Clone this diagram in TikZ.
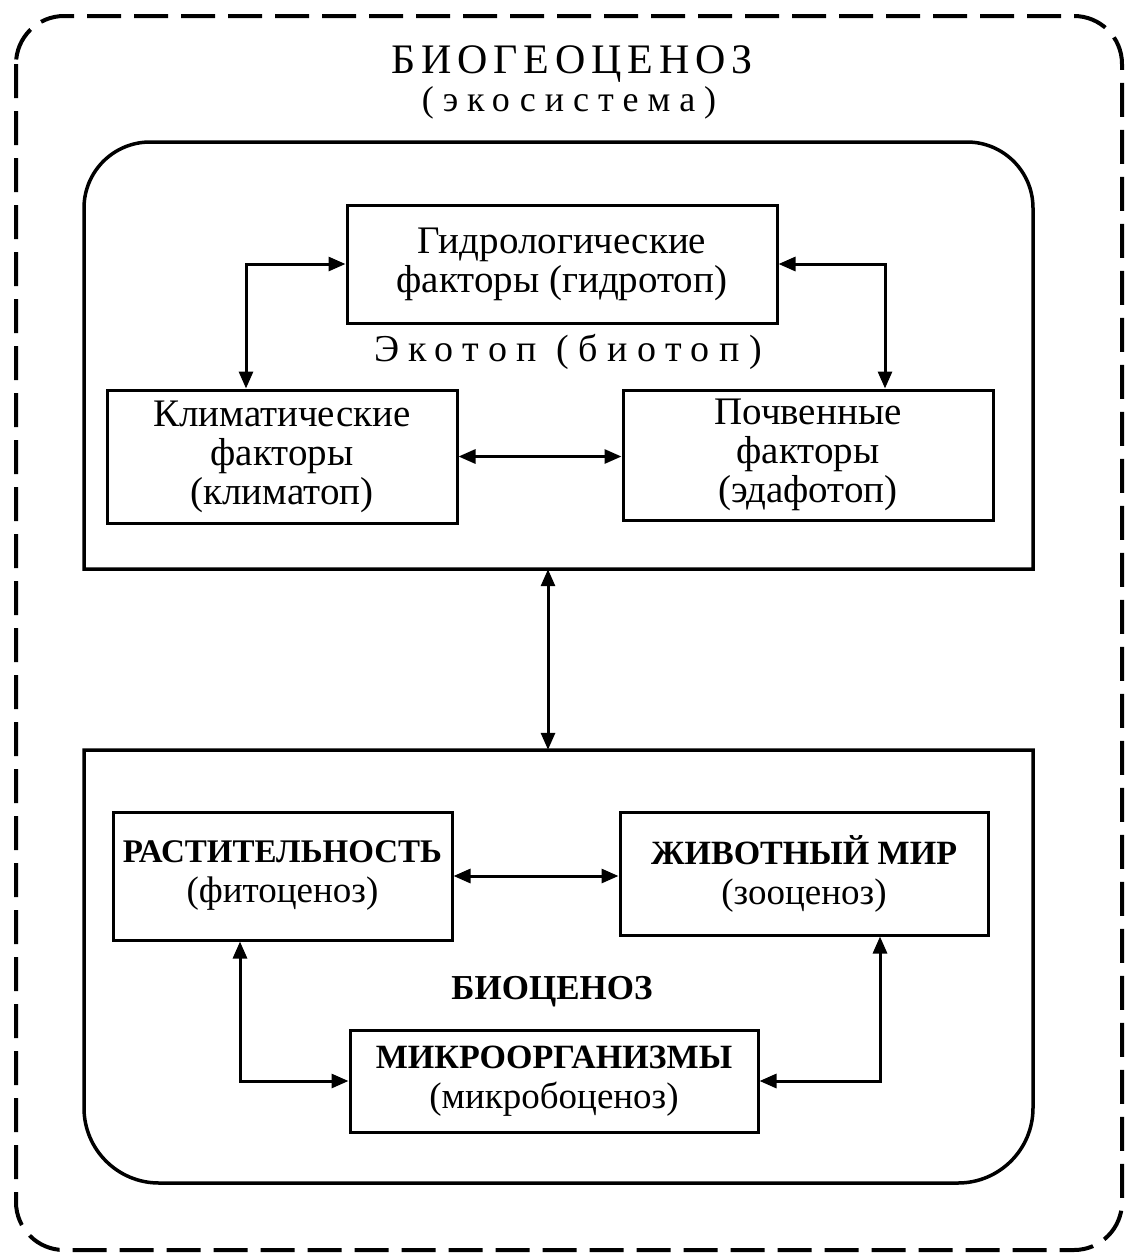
\documentclass[tikz,border=0pt]{standalone}
\usepackage{fontspec}
\setmainfont{Liberation Serif}
\newfontfamily\spacedfont[LetterSpace=25]{Liberation Serif}
\newfontfamily\titlefont[LetterSpace=14]{Liberation Serif}
\usetikzlibrary{arrows.meta,calc}
\begin{document}
\begin{tikzpicture}[x=1pt,y=-1pt,
  box/.style={draw, line width=3pt, rectangle, inner sep=0pt, align=center,
    font=\fontsize{39}{39}\selectfont},
  capbox/.style={box, font=\fontsize{37}{40}\selectfont},
  region/.style={rectangle, inner sep=0pt},
  link/.style={line width=3pt, {Triangle[length=17pt,width=14pt]}-{Triangle[length=17pt,width=14pt]}},
  frame/.style={line width=3.5pt},
  outer/.style={line width=4pt, dash pattern=on 34pt off 13pt, rounded corners=48pt},
  spaced/.style={font=\spacedfont\fontsize{38}{42}\selectfont}]
\useasboundingbox (0,0) rectangle (1128,1254);

% outer dashed frame
\draw[outer] (16,16) rectangle (1122,1250);

% container shapes
\draw[frame] (84,569) -- (84,300) [rounded corners=66pt] -- (84,142) -- (1033,142) -- (1033,300) [sharp corners] -- (1033,569) -- cycle;
\draw[frame] (84,750) -- (84,900) [rounded corners=75pt] -- (84,1183) -- (1033,1183) -- (1033,900) [sharp corners] -- (1033,750) -- cycle;
\node[region, minimum width=949pt, minimum height=427pt] (eco) at (558.5,355.5) {};
\node[region, minimum width=949pt, minimum height=433pt] (bio) at (558.5,966.5) {};

% titles
\node[font=\titlefont\fontsize{42}{46}\selectfont] (title) at (572,64) {БИОГЕОЦЕНОЗ};
\node[font=\spacedfont\fontsize{36}{40}\selectfont] (subtitle) at (569,103) {(экосистема)};
\node[spaced] (ekotop) at (568,352) {Экотоп (биотоп)};
\node[font=\bfseries\fontsize{35}{40}\selectfont] (biocenoz) at (552,992) {БИОЦЕНОЗ};

% boxes
\node[box, minimum width=430pt, minimum height=118pt] (hydro) at (562,264) {Гидрологические\\факторы (гидротоп)};
\node[box, minimum width=350pt, minimum height=133pt] (klim) at (282,456.5) {Климатические\\факторы\\(климатоп)};
\node[box, minimum width=370pt, minimum height=130pt] (poch) at (808,455) {Почвенные\\факторы\\(эдафотоп)};
\node[capbox, minimum width=339pt, minimum height=128pt] (rast) at (282.5,876) {{\bfseries\fontsize{33}{40}\selectfont РАСТИТЕЛЬНОСТЬ}\\(фитоценоз)};
\node[capbox, minimum width=368pt, minimum height=123pt] (zhiv) at (804,873.5) {{\bfseries\fontsize{34}{40}\selectfont ЖИВОТНЫЙ МИР}\\(зооценоз)};
\node[capbox, minimum width=408pt, minimum height=102pt] (mikro) at (554,1081) {{\bfseries\fontsize{34}{40}\selectfont МИКРООРГАНИЗМЫ}\\(микробоценоз)};

% routing coordinates
\coordinate (lx) at (246,0);
\coordinate (rx) at (885,0);
\coordinate (ax) at (548,0);
\coordinate (blx) at (240,0);
\coordinate (brx) at (880,0);

% connectors
\draw[link] (hydro.west) -| (klim.north -| lx);
\draw[link] (hydro.east) -| (poch.north -| rx);
\draw[link] (klim.east) -- (klim.east -| poch.west);
\draw[link] (eco.south -| ax) -- (bio.north -| ax);
\draw[link] (rast.east) -- (rast.east -| zhiv.west);
\draw[link] (rast.south -| blx) |- (mikro.west);
\draw[link] (zhiv.south -| brx) |- (mikro.east);
\end{tikzpicture}
\end{document}
